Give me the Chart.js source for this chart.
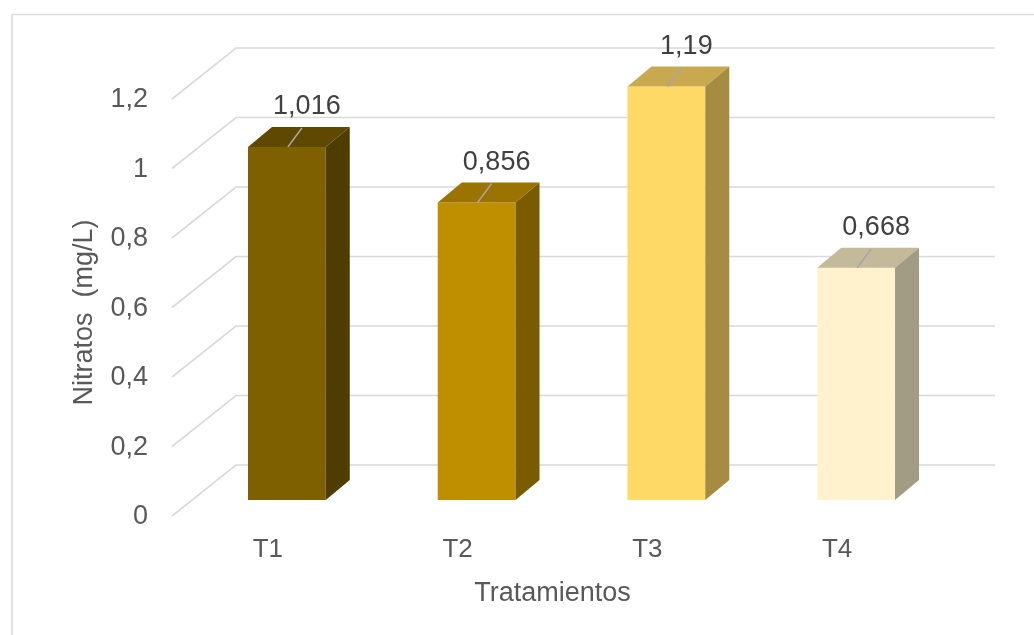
<!DOCTYPE html>
<html>
<head>
<meta charset="utf-8">
<script src="https://cdn.jsdelivr.net/npm/chart.js@4.4.0/dist/chart.umd.min.js"></script>
<style>
    html, body { margin: 0; padding: 0; background: #ffffff; }
    #wrap { width: 1034px; height: 635px; position: relative; }
</style>
</head>
<body>
<div id="wrap"><canvas id="nitratosChart" width="1034" height="635"></canvas></div>
<script>
// chart data
const categories = ['T1', 'T2', 'T3', 'T4'];
const nitratos = [1.016, 0.856, 1.19, 0.668];
const yTickValues = [0, 0.2, 0.4, 0.6, 0.8, 1, 1.2];
const xTitle = 'Tratamientos';
const yTitle = 'Nitratos  (mg/L)';

// face colours for the 3D bars
const frontColors = ['#7F6000', '#BF8F00', '#FFD966', '#FFF2CC'];
const topColors = ['#5F4800', '#9A7300', '#C8A94F', '#C4B998'];
const sideColors = ['#4F3C00', '#7A5C00', '#A68C40', '#A39C84'];

const FONT = '"Liberation Sans", Arial, sans-serif';
const fmt = v => String(v).replace('.', ',');

// grid walls, border, 3D faces, value labels and axis titles
const threeD = {
    id: 'threeD',
    beforeDraw(chart) {
        const ctx = chart.ctx;
        ctx.save();
        ctx.strokeStyle = '#D9D9D9';
        ctx.lineWidth = 1.5;
        ctx.strokeRect(12, 14.5, 2000, 2000);
        ctx.restore();
    },
    beforeDatasetsDraw(chart) {
        const ctx = chart.ctx;
        const y = chart.scales.y;
        const area = chart.chartArea;
        ctx.save();
        ctx.strokeStyle = '#D9D9D9';
        ctx.lineWidth = 1.6;
        y.ticks.forEach(t => {
            const py = y.getPixelForValue(t.value);
            ctx.beginPath();
            ctx.moveTo(area.left - 20, py + 16);
            ctx.lineTo(area.left + 44, py - 35);
            ctx.lineTo(area.right + 44, py - 35);
            ctx.stroke();
        });
        ctx.restore();
    },
    afterDatasetsDraw(chart) {
        const ctx = chart.ctx;
        const meta = chart.getDatasetMeta(0);
        const dx = 24, dy = -20;
        ctx.save();
        meta.data.forEach((bar, i) => {
            const l = bar.x - bar.width / 2;
            const r = bar.x + bar.width / 2;
            // top face
            ctx.fillStyle = topColors[i];
            ctx.beginPath();
            ctx.moveTo(l, bar.y);
            ctx.lineTo(l + dx, bar.y + dy);
            ctx.lineTo(r + dx, bar.y + dy);
            ctx.lineTo(r, bar.y);
            ctx.closePath();
            ctx.fill();
            // side face
            ctx.fillStyle = sideColors[i];
            ctx.beginPath();
            ctx.moveTo(r, bar.y);
            ctx.lineTo(r + dx, bar.y + dy);
            ctx.lineTo(r + dx, bar.base + dy);
            ctx.lineTo(r, bar.base);
            ctx.closePath();
            ctx.fill();
            // leader line
            ctx.strokeStyle = '#A6A6A6';
            ctx.lineWidth = 1.5;
            ctx.beginPath();
            ctx.moveTo(bar.x + 1, bar.y);
            ctx.lineTo(bar.x + 15, bar.y - 19);
            ctx.stroke();
            // value label
            ctx.fillStyle = '#404040';
            ctx.font = '27px ' + FONT;
            ctx.textAlign = 'center';
            ctx.textBaseline = 'middle';
            ctx.fillText(fmt(nitratos[i]), bar.x + 20, bar.y - 40);
        });
        ctx.restore();
    },
    afterDraw(chart) {
        const ctx = chart.ctx;
        const area = chart.chartArea;
        const cx = (area.left + area.right) / 2;
        const cy = (area.top + area.bottom) / 2;
        ctx.save();
        ctx.fillStyle = '#595959';
        ctx.font = '27px ' + FONT;
        ctx.textAlign = 'center';
        ctx.textBaseline = 'middle';
        ctx.fillText(xTitle, cx - 19, 594);
        ctx.translate(area.left - 107, cy + 21);
        ctx.rotate(-Math.PI / 2);
        ctx.fillText(yTitle, 0, 0);
        ctx.restore();
    }
};

const ctx = document.getElementById('nitratosChart').getContext('2d');
new Chart(ctx, {
    type: 'bar',
    data: {
        labels: categories,
        datasets: [{
            label: 'Nitratos',
            data: nitratos,
            backgroundColor: frontColors,
            borderWidth: 0,
            barPercentage: 0.41,
            categoryPercentage: 1
        }]
    },
    options: {
        responsive: false,
        animation: false,
        layout: {
            padding: { left: 75, right: 83, top: 83, bottom: 20 }
        },
        plugins: {
            legend: { display: false },
            tooltip: { enabled: false }
        },
        scales: {
            x: {
                grid: { display: false, drawTicks: false },
                border: { display: false },
                ticks: {
                    color: '#595959',
                    font: { family: FONT, size: 26 },
                    padding: 34,
                    labelOffset: -19
                },
                afterFit(scale) { scale.height = 115; }
            },
            y: {
                min: 0,
                max: 1.2,
                afterBuildTicks(scale) {
                    scale.ticks = yTickValues.map(v => ({ value: v }));
                },
                grid: { display: false, drawTicks: false },
                border: { display: false },
                ticks: {
                    color: '#595959',
                    font: { family: FONT, size: 27 },
                    padding: 44,
                    labelOffset: 17,
                    callback: v => fmt(Math.round(v * 10) / 10)
                },
                afterFit(scale) { scale.width = 117; }
            }
        }
    },
    plugins: [threeD]
});
</script>
</body>
</html>
